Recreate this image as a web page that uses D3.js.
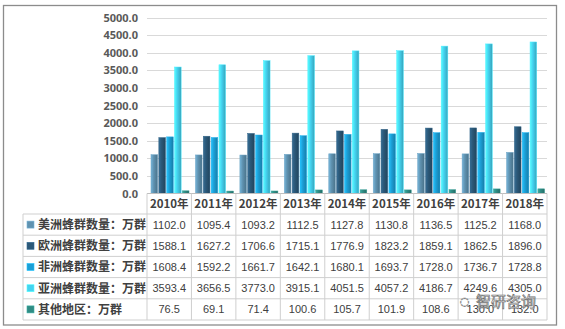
<!DOCTYPE html>
<html><head><meta charset="utf-8">
<script src="https://cdn.jsdelivr.net/npm/d3@7"></script>
<style>html,body{margin:0;padding:0;background:#fff;}svg{display:block;}</style>
</head><body>
<svg id="chart" width="565" height="329"></svg>
<script>
const years = ["2010年","2011年","2012年","2013年","2014年","2015年","2016年","2017年","2018年"];
const seriesNames = ["美洲蜂群数量：万群","欧洲蜂群数量：万群","非洲蜂群数量：万群","亚洲蜂群数量：万群","其他地区：万群"];
const americas = [1102.0,1095.4,1093.2,1112.5,1127.8,1130.8,1136.5,1125.2,1168.0];
const europe   = [1588.1,1627.2,1706.6,1715.1,1776.9,1823.2,1859.1,1862.5,1896.0];
const africa   = [1608.4,1592.2,1661.7,1642.1,1680.1,1693.7,1728.0,1736.7,1728.8];
const asia     = [3593.4,3656.5,3773.0,3915.1,4051.5,4057.2,4186.7,4249.6,4305.0];
const others   = [76.5,69.1,71.4,100.6,105.7,101.9,108.6,130.0,132.0];
const yTicks = [0,500,1000,1500,2000,2500,3000,3500,4000,4500,5000];
const colors = ["#5f92b0","#2b5878","#1c9fd6","#45d3f0","#2f8c84"];

const seriesValues = [americas, europe, africa, asia, others];
const svg = d3.select("#chart");

// outer border
svg.append("rect").attr("x",3.5).attr("y",5.5).attr("width",553).attr("height",319.5)
  .attr("fill","#fff").attr("stroke","#8c8c8c").attr("stroke-width",1.3);

const x0 = 147, x1 = 547, yTop = 17.5, yBase = 193.5;
const x = d3.scaleBand().domain(years).range([x0, x1]).padding(0);
const xi = d3.scaleBand().domain(d3.range(5)).range([4, 42]).paddingInner(0.15);
const y = d3.scaleLinear().domain([0,5000]).range([yBase, yTop]);

// gradients
const defs = svg.append("defs");
colors.forEach((c,i)=>{
  const g = defs.append("linearGradient").attr("id","g"+i).attr("x1","0").attr("x2","1").attr("y1","0").attr("y2","0");
  const col = d3.color(c);
  g.append("stop").attr("offset","0%").attr("stop-color", d3.color(c).brighter(0.6));
  g.append("stop").attr("offset","40%").attr("stop-color", c);
  g.append("stop").attr("offset","100%").attr("stop-color", col.darker(0.7));
});

// grid
svg.append("g").selectAll("line").data(yTicks.filter(d=>d>0)).join("line")
  .attr("x1",x0).attr("x2",x1).attr("y1",d=>Math.round(y(d))+0.5).attr("y2",d=>Math.round(y(d))+0.5)
  .attr("stroke","#d9d9d9").attr("stroke-width",1);

// y axis
const yAxis = d3.axisLeft(y).tickValues(yTicks).tickFormat(d=>d3.format(".1f")(d)).tickSize(0).tickPadding(0);
const ya = svg.append("g").attr("transform","translate(138,0)").call(yAxis);
ya.select(".domain").remove();
ya.selectAll("text").attr("font-family","'Noto Sans','Liberation Sans',sans-serif").attr("font-size","11px")
  .attr("font-weight","bold").attr("fill","#595959");

// bars
const groups = svg.append("g").selectAll("g").data(years).join("g")
  .attr("transform",d=>`translate(${x(d)},0)`);
seriesValues.forEach((vals,si)=>{
  groups.append("rect")
    .attr("x",xi(si)).attr("width",xi.bandwidth())
    .attr("y",(d,i)=>y(vals[i])).attr("height",(d,i)=>yBase - y(vals[i]))
    .attr("fill",`url(#g${si})`).attr("stroke",d3.color(colors[si]).brighter(0.3)).attr("stroke-width",0.5);
});

// table
const rowTop = 214, rowH = 21.2, tableLeft = 23;
const tbl = svg.append("g");
const lineCol = "#cfcfcf";
// baseline
tbl.append("line").attr("x1",x0).attr("x2",x1).attr("y1",yBase).attr("y2",yBase).attr("stroke","#bfbfbf");
// horizontal lines
d3.range(6).forEach(r=>{
  tbl.append("line").attr("x1",tableLeft).attr("x2",x1)
    .attr("y1",rowTop + r*rowH).attr("y2",rowTop + r*rowH).attr("stroke",lineCol);
});
// vertical lines
tbl.append("line").attr("x1",tableLeft).attr("x2",tableLeft).attr("y1",rowTop).attr("y2",rowTop+5*rowH).attr("stroke",lineCol);
[...years.map(d=>x(d)), x1].forEach(v=>{
  tbl.append("line").attr("x1",v).attr("x2",v).attr("y1",yBase).attr("y2",rowTop+5*rowH).attr("stroke",lineCol);
});
// year headers
tbl.selectAll("text.yr").data(years).join("text").attr("class","yr")
  .attr("x",d=>x(d)+x.bandwidth()/2).attr("y",(yBase+rowTop)/2).attr("dy","0.36em")
  .attr("text-anchor","middle").attr("font-family","'Noto Sans CJK SC',sans-serif")
  .attr("font-size","11.5px").attr("font-weight","bold").attr("fill","#404040").text(d=>d);
// rows
seriesNames.forEach((name,si)=>{
  const cy = rowTop + si*rowH + rowH/2;
  tbl.append("rect").attr("x",27).attr("y",cy-3.5).attr("width",7).attr("height",7)
    .attr("fill",colors[si]).attr("stroke",d3.color(colors[si]).brighter(0.6)).attr("stroke-width",0.6);
  tbl.append("text").attr("x",38).attr("y",cy).attr("dy","0.36em")
    .attr("font-family","'Noto Sans CJK SC',sans-serif").attr("font-size","12px").attr("font-weight","bold")
    .attr("fill","#404040").text(name);
  tbl.selectAll(null).data(seriesValues[si]).join("text")
    .attr("x",(d,i)=>x(years[i])+x.bandwidth()/2).attr("y",cy).attr("dy","0.36em")
    .attr("text-anchor","middle").attr("font-family","'Liberation Sans',sans-serif").attr("font-size","11px")
    .attr("fill","#404040").text(d=>d3.format(".1f")(d));
});

// watermark
svg.append("text").attr("x",476).attr("y",307)
  .attr("font-family","'Noto Sans CJK SC',sans-serif").attr("font-size","15px")
  .attr("fill","#ffffff").attr("fill-opacity",0.85).attr("stroke","#6e6e6e").attr("stroke-width",0.7)
  .text("智研咨询");
svg.append("text").attr("x",460).attr("y",305)
  .attr("font-family","'DejaVu Sans',sans-serif").attr("font-size","11px")
  .attr("fill","#ffffff").attr("stroke","#8a8a8a").attr("stroke-width",0.6).text("◌");
</script>
</body></html>
